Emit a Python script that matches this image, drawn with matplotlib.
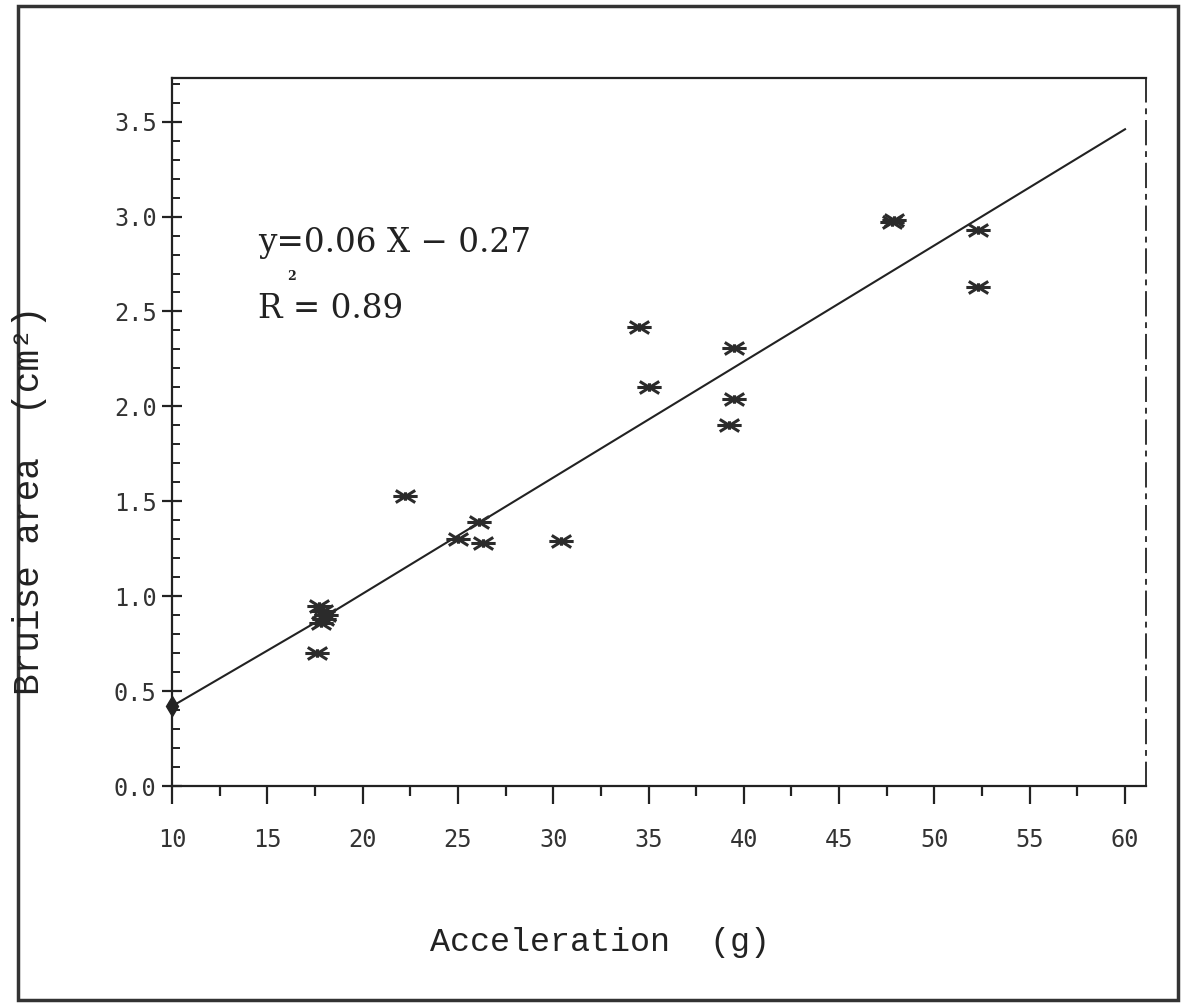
import matplotlib
matplotlib.use("Agg")
import matplotlib.pyplot as plt
from matplotlib.path import Path
from matplotlib.patches import Rectangle
from matplotlib.ticker import MultipleLocator, FixedLocator

# ---- data ----
accel = [17.7, 17.9, 18.0, 17.8, 18.1, 17.6, 22.2, 25.0, 26.1, 26.3, 30.4,
         34.5, 35.0, 39.5, 39.5, 39.2, 47.8, 47.9, 52.3, 52.3]
bruise = [0.95, 0.92, 0.88, 0.86, 0.90, 0.70, 1.53, 1.30, 1.39, 1.28, 1.29,
          2.42, 2.10, 2.31, 2.04, 1.90, 2.97, 2.98, 2.93, 2.63]
fit_x = [10, 17.5, 60]
fit_y = [0.42, 0.86, 3.46]
x_ticks = [10, 15, 20, 25, 30, 35, 40, 45, 50, 55, 60]
y_ticks = [0.0, 0.5, 1.0, 1.5, 2.0, 2.5, 3.0, 3.5]
equation = "y=0.06 X \u2212 0.27"
r2_text = "R = 0.89"
x_label = "Acceleration  (g)"
y_label = "Bruise area  (cm\u00b2)"

W, H = 1190, 1008
fig = plt.figure(figsize=(W / 100, H / 100), dpi=100)
fig.patch.set_facecolor("white")

L, R, B, T = 172, 1146, 786, 78
ax = fig.add_axes([L / W, 1 - B / H, (R - L) / W, (B - T) / H])
ax.set_xlim(10, 61.1)
ax.set_ylim(0, 3.73)

ink = "#2b2b2b"
# asterisk-like marker
verts = [(-1, 0), (1, 0),
         (-0.8, -0.5), (0.8, 0.5),
         (-0.8, 0.5), (0.8, -0.5),
         (0, -0.35), (0, 0.35)]
codes = [Path.MOVETO, Path.LINETO] * 4
star = Path(verts, codes)

ax.plot(fit_x, fit_y, color="#222222", lw=1.5, zorder=2)
ax.plot(fit_x[0], fit_y[0], marker="d", ms=10, color="#222222", zorder=3,
        clip_on=False)
ax.plot(accel, bruise, ls="none", marker=star, ms=17.5, mew=2.2,
        mec=ink, mfc="none", zorder=3)

for s in ["left", "top", "bottom"]:
    ax.spines[s].set_linewidth(1.6)
    ax.spines[s].set_color("#222222")
ax.spines["right"].set_linewidth(1.4)
ax.spines["right"].set_color("#333333")
ax.spines["right"].set_linestyle((0, (12, 4, 2, 4)))

tick_font = dict(family="DejaVu Sans Mono", size=17)
ax.xaxis.set_major_locator(FixedLocator(x_ticks))
ax.xaxis.set_minor_locator(MultipleLocator(2.5))
ax.set_xticklabels([str(v) for v in x_ticks], color="#333333", **tick_font)
ax.yaxis.set_major_locator(FixedLocator(y_ticks))
ax.yaxis.set_minor_locator(MultipleLocator(0.1))
ax.set_yticklabels([f"{v:.1f}" for v in y_ticks], color="#333333", **tick_font)

ax.tick_params(axis="x", which="major", direction="out", length=13, width=1.6,
               color="#222222", pad=17)
ax.tick_params(axis="x", which="minor", direction="out", length=7, width=1.6,
               color="#222222")
ax.tick_params(axis="y", which="major", direction="inout", length=14,
               width=1.6, color="#222222", pad=4)
ax.tick_params(axis="y", which="minor", direction="in", length=6, width=1.4,
               color="#222222")
ax.tick_params(top=False, right=False, which="both")

# annotation texts
txt_font = dict(family="DejaVu Serif", color="#222222")
fig.text(258 / W, 1 - 243 / H, equation, ha="left", va="center",
         fontsize=23.5, **txt_font)
fig.text(258 / W, 1 - 309 / H, r2_text, ha="left", va="center",
         fontsize=23.5, **txt_font)
fig.text(292 / W, 1 - 276 / H, "2", ha="center", va="center",
         fontsize=9, fontweight="bold", **txt_font)

lab_font = dict(family="Liberation Mono", color="#222222")
fig.text(600 / W, 1 - 942 / H, x_label, ha="center", va="center",
         fontsize=24, **lab_font)
fig.text(30 / W, 1 - 500 / H, y_label, ha="center", va="center",
         rotation=90, fontsize=26, **lab_font)

# outer frame
fig.patches.append(Rectangle((18 / W, 1 - 1000 / H), (1178 - 18) / W,
                             (1000 - 6) / H, transform=fig.transFigure,
                             fill=False, lw=2.5, ec="#333333"))

fig.savefig("out.png", dpi=100, facecolor="white")
